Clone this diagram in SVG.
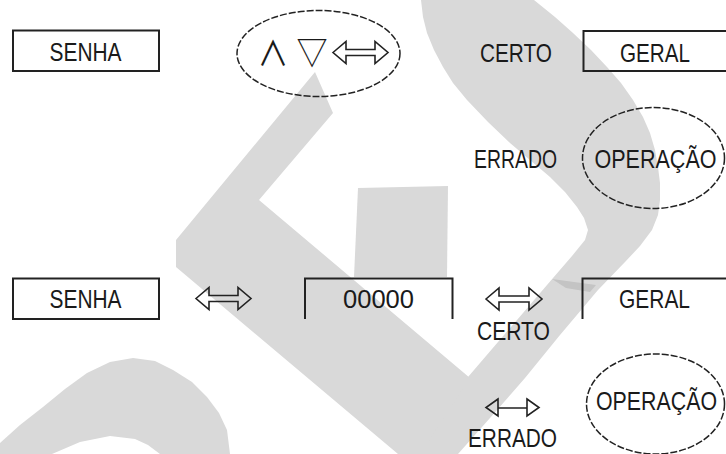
<svg xmlns="http://www.w3.org/2000/svg" width="726" height="454" viewBox="0 0 726 454">
<style>
.wm{fill:#d9d9d9}
.box{fill:none;stroke:#222;stroke-width:2}
.oval{fill:none;stroke:#222;stroke-width:1.5;stroke-dasharray:7 2}
.lbl{font-family:"Liberation Sans",Arial,sans-serif;font-size:25px;fill:#1a1a1a;text-anchor:middle}
.sym{font-family:"Noto Sans CJK JP","DejaVu Sans",sans-serif;font-size:34px;fill:#1a1a1a;text-anchor:middle}
.arr{fill:none;stroke:#222;stroke-width:1.6;stroke-linejoin:miter}
</style>
<rect width="726" height="454" fill="#ffffff"/>
<g id="watermark">
<polygon class="wm" points="421,0 534,0 555,17 573,33 591,50 607,67 621,83 633,100 643,117 650,133 655,150 658,167 660,183 660,200 658,215 652,230 640,246 625,262 598,290 560,335 525,378 490,418 458,454 402,454 468,377 553,278 572,256 585,240 588,230 584,218 577,207 565,192 550,177 530,160 510,143 488,122 467,100 453,83 443,67 434,50 427,33 423,17"/>
<polygon class="wm" points="315,72 333,113 259,200 470,378 420,454 398,454 176,267 176,240"/>
<polygon class="wm" points="358,188 448,186 447,277 354,277"/>
<polygon class="wm" points="0,443 20,425 43,407 65,389 87,373 110,362 133,358 155,361 173,370 192,382 207,397 219,413 227,430 230,454 160,454 148,445 135,439 110,436 80,442 52,454 0,454"/>
<polygon fill="#c4c4c4" points="552,279 596,285 590,292 566,288"/>
</g>
<g id="node-senha-1">
<rect class="box" x="13" y="30.5" width="146" height="40.5"/>
<text class="lbl" x="85.5" y="60.5" textLength="72" lengthAdjust="spacingAndGlyphs">SENHA</text>
</g>
<g id="node-keys">
<ellipse class="oval" cx="318.5" cy="53.5" rx="81.5" ry="43"/>
<text class="sym" x="273" y="66" textLength="31" lengthAdjust="spacingAndGlyphs">∧</text>
<text class="sym" x="312" y="65" font-size="28" textLength="31" lengthAdjust="spacingAndGlyphs">▽</text>
<path class="arr" d="M333,52.5 L346,41.5 L346,49.5 L375,49.5 L375,41.5 L388,52.5 L375,63.5 L375,55.5 L346,55.5 L346,63.5 Z"/>
</g>
<g id="label-certo-1">
<text class="lbl" x="516" y="62" textLength="72" lengthAdjust="spacingAndGlyphs">CERTO</text>
</g>
<g id="node-geral-1">
<rect class="box" x="583.5" y="31" width="160" height="40"/>
<text class="lbl" x="655" y="62" textLength="70" lengthAdjust="spacingAndGlyphs">GERAL</text>
</g>
<g id="label-errado-1">
<text class="lbl" x="515.5" y="168" textLength="83" lengthAdjust="spacingAndGlyphs">ERRADO</text>
</g>
<g id="node-operacao-1">
<ellipse class="oval" cx="653.5" cy="158" rx="71" ry="50.5"/>
<text class="lbl" x="655.5" y="168" font-size="23" textLength="122" lengthAdjust="spacingAndGlyphs">OPERAÇÃO</text>
</g>
<g id="node-senha-2">
<rect class="box" x="13" y="278.5" width="146" height="40.5"/>
<text class="lbl" x="85.5" y="308" textLength="72" lengthAdjust="spacingAndGlyphs">SENHA</text>
</g>
<g id="node-code">
<path class="box" d="M305,319 V278.5 H452.5 V319"/>
<text class="lbl" x="378.5" y="308" textLength="71" lengthAdjust="spacingAndGlyphs">00000</text>
</g>
<g id="node-geral-2">
<path class="box" d="M582.5,319 V278.5 H727"/>
<text class="lbl" x="654.5" y="308" textLength="71" lengthAdjust="spacingAndGlyphs">GERAL</text>
</g>
<g id="node-operacao-2">
<ellipse class="oval" cx="655.5" cy="404" rx="69" ry="50"/>
<text class="lbl" x="656.5" y="410" font-size="23" textLength="121" lengthAdjust="spacingAndGlyphs">OPERAÇÃO</text>
</g>
<g id="connectors">
<path class="arr" d="M196,298.5 L209,287.5 L209,295.5 L238,295.5 L238,287.5 L251,298.5 L238,309.5 L238,301.5 L209,301.5 L209,309.5 Z"/>
<path class="arr" d="M486,299 L499,288 L499,296 L529,296 L529,288 L542,299 L529,310 L529,302 L499,302 L499,310 Z"/>
<path class="arr" d="M498,399 L486,407.5 L498,416 Z M498,408 H527 M527,399 L539,407.5 L527,416 Z"/>
<text class="lbl" x="513.5" y="340" textLength="73" lengthAdjust="spacingAndGlyphs">CERTO</text>
<text class="lbl" x="512.5" y="447" textLength="89" lengthAdjust="spacingAndGlyphs">ERRADO</text>
</g>
</svg>
